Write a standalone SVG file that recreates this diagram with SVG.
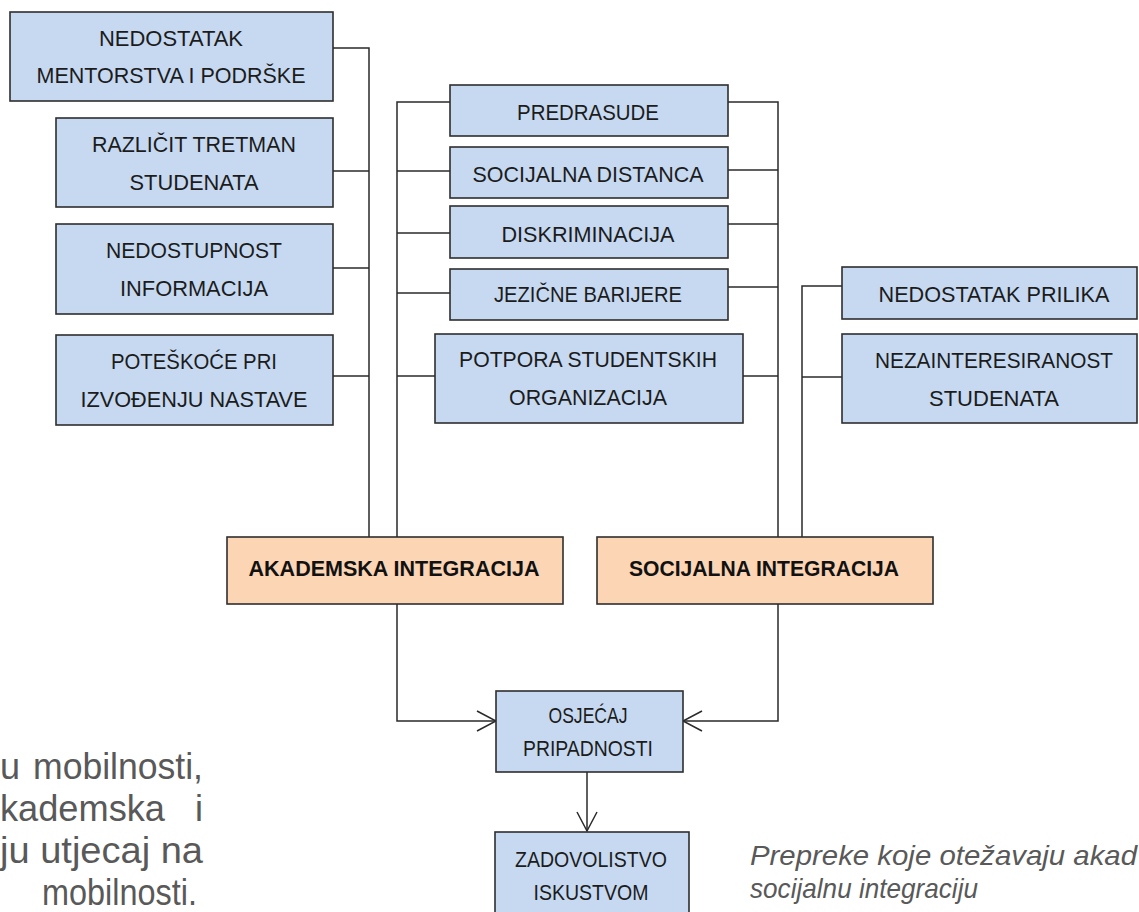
<svg xmlns="http://www.w3.org/2000/svg" width="1139" height="912" viewBox="0 0 1139 912">
<defs>
<style>
.box{fill:#C6D9F1;stroke:#2e2e2e;stroke-width:1.6}
.obox{fill:#FCD5B5;stroke:#2e2e2e;stroke-width:1.6}
.t{font-family:"Liberation Sans",Arial,sans-serif;font-size:22.5px;fill:#1c1c1c;text-anchor:middle}
.tb{font-family:"Liberation Sans",Arial,sans-serif;font-size:22.5px;font-weight:bold;fill:#111;text-anchor:middle}
.tn{font-family:"Liberation Sans",Arial,sans-serif;font-size:21.5px;fill:#1c1c1c;text-anchor:middle}
.conn{fill:none;stroke:#2a2a2a;stroke-width:1.5}
.para{font-family:"Liberation Sans",Arial,sans-serif;font-size:36px;fill:#595959}
.cap{font-family:"Liberation Sans",Arial,sans-serif;font-size:28px;font-style:italic;fill:#595959}
</style>
<marker id="arr" markerUnits="userSpaceOnUse" markerWidth="24" markerHeight="26" viewBox="0 0 24 26" refX="21" refY="13" orient="auto">
<path d="M2,3 L21,13 L2,23" fill="none" stroke="#2a2a2a" stroke-width="1.5"/>
</marker>
</defs>

<g id="connectors">
<path class="conn" d="M333,48 H369 V537"/>
<path class="conn" d="M333,171 H369"/>
<path class="conn" d="M333,268 H369"/>
<path class="conn" d="M333,376 H369"/>
<path class="conn" d="M397,537 V102 H450"/>
<path class="conn" d="M397,171 H450"/>
<path class="conn" d="M397,233 H450"/>
<path class="conn" d="M397,293 H450"/>
<path class="conn" d="M397,376 H435"/>
<path class="conn" d="M728,102 H778 V537"/>
<path class="conn" d="M728,170 H778"/>
<path class="conn" d="M728,224 H778"/>
<path class="conn" d="M728,287 H778"/>
<path class="conn" d="M743,376 H778"/>
<path class="conn" d="M842,286 H802 V537"/>
<path class="conn" d="M802,377 H842"/>
<path class="conn" d="M397,604 V721 H496" marker-end="url(#arr)"/>
<path class="conn" d="M778,604 V721 H683" marker-end="url(#arr)"/>
<path class="conn" d="M587,772 V831" marker-end="url(#arr)"/>
</g>

<g id="n-mentorstvo">
<rect class="box" x="10" y="12" width="323" height="89"/>
<text class="t" x="171" y="46" textLength="144" lengthAdjust="spacingAndGlyphs">NEDOSTATAK</text>
<text class="t" x="171" y="83" textLength="269" lengthAdjust="spacingAndGlyphs">MENTORSTVA I PODRŠKE</text>
</g>
<g id="n-tretman">
<rect class="box" x="56" y="118" width="277" height="89"/>
<text class="t" x="194" y="152" textLength="204" lengthAdjust="spacingAndGlyphs">RAZLIČIT TRETMAN</text>
<text class="t" x="194" y="190" textLength="129" lengthAdjust="spacingAndGlyphs">STUDENATA</text>
</g>
<g id="n-informacije">
<rect class="box" x="56" y="224" width="277" height="90"/>
<text class="t" x="194" y="258" textLength="176" lengthAdjust="spacingAndGlyphs">NEDOSTUPNOST</text>
<text class="t" x="194" y="296" textLength="148" lengthAdjust="spacingAndGlyphs">INFORMACIJA</text>
</g>
<g id="n-nastava">
<rect class="box" x="56" y="335" width="277" height="90"/>
<text class="t" x="194" y="369" textLength="166" lengthAdjust="spacingAndGlyphs">POTEŠKOĆE PRI</text>
<text class="t" x="194" y="407" textLength="227" lengthAdjust="spacingAndGlyphs">IZVOĐENJU NASTAVE</text>
</g>
<g id="n-predrasude">
<rect class="box" x="450" y="85" width="278" height="51"/>
<text class="t" x="588" y="120" textLength="142" lengthAdjust="spacingAndGlyphs">PREDRASUDE</text>
</g>
<g id="n-distanca">
<rect class="box" x="450" y="147" width="278" height="51"/>
<text class="t" x="588" y="182" textLength="231" lengthAdjust="spacingAndGlyphs">SOCIJALNA DISTANCA</text>
</g>
<g id="n-diskriminacija">
<rect class="box" x="450" y="206" width="278" height="52"/>
<text class="t" x="588" y="242" textLength="173" lengthAdjust="spacingAndGlyphs">DISKRIMINACIJA</text>
</g>
<g id="n-jezik">
<rect class="box" x="450" y="269" width="278" height="51"/>
<text class="t" x="588" y="302" textLength="188" lengthAdjust="spacingAndGlyphs">JEZIČNE BARIJERE</text>
</g>
<g id="n-potpora">
<rect class="box" x="435" y="334" width="308" height="89"/>
<text class="t" x="588" y="367" textLength="258" lengthAdjust="spacingAndGlyphs">POTPORA STUDENTSKIH</text>
<text class="t" x="588" y="405" textLength="158" lengthAdjust="spacingAndGlyphs">ORGANIZACIJA</text>
</g>
<g id="n-prilike">
<rect class="box" x="842" y="267" width="295" height="52"/>
<text class="t" x="994" y="302" textLength="231" lengthAdjust="spacingAndGlyphs">NEDOSTATAK PRILIKA</text>
</g>
<g id="n-nezainteresiranost">
<rect class="box" x="842" y="334" width="295" height="89"/>
<text class="t" x="994" y="368" textLength="238" lengthAdjust="spacingAndGlyphs">NEZAINTERESIRANOST</text>
<text class="t" x="994" y="406" textLength="130" lengthAdjust="spacingAndGlyphs">STUDENATA</text>
</g>
<g id="n-akademska">
<rect class="obox" x="227" y="537" width="336" height="67"/>
<text class="tb" x="394" y="576" textLength="291" lengthAdjust="spacingAndGlyphs">AKADEMSKA INTEGRACIJA</text>
</g>
<g id="n-socijalna">
<rect class="obox" x="597" y="537" width="336" height="67"/>
<text class="tb" x="764" y="576" textLength="270" lengthAdjust="spacingAndGlyphs">SOCIJALNA INTEGRACIJA</text>
</g>
<g id="n-pripadnost">
<rect class="box" x="496" y="691" width="187" height="81"/>
<text class="tn" x="588" y="723" textLength="79" lengthAdjust="spacingAndGlyphs">OSJEĆAJ</text>
<text class="tn" x="588" y="756" textLength="130" lengthAdjust="spacingAndGlyphs">PRIPADNOSTI</text>
</g>
<g id="n-zadovoljstvo">
<rect class="box" x="495" y="832" width="194" height="100"/>
<text class="tn" x="591" y="867" textLength="152" lengthAdjust="spacingAndGlyphs">ZADOVOLISTVO</text>
<text class="tn" x="591" y="900" textLength="115" lengthAdjust="spacingAndGlyphs">ISKUSTVOM</text>
</g>

<g id="paragraph">
<text class="para" y="779"><tspan x="0">u</tspan><tspan x="33" textLength="170" lengthAdjust="spacingAndGlyphs">mobilnosti,</tspan></text>
<text class="para" y="821"><tspan x="0" textLength="165" lengthAdjust="spacingAndGlyphs">kademska</tspan><tspan x="195">i</tspan></text>
<text class="para" x="0" y="863" textLength="203" lengthAdjust="spacingAndGlyphs">ju utjecaj na</text>
<text class="para" x="42" y="905" textLength="155" lengthAdjust="spacingAndGlyphs">mobilnosti.</text>
</g>
<g id="caption">
<text class="cap" x="750" y="865" textLength="387" lengthAdjust="spacingAndGlyphs">Prepreke koje otežavaju akad</text>
<text class="cap" x="750" y="898" textLength="228" lengthAdjust="spacingAndGlyphs">socijalnu integraciju</text>
</g>
</svg>
